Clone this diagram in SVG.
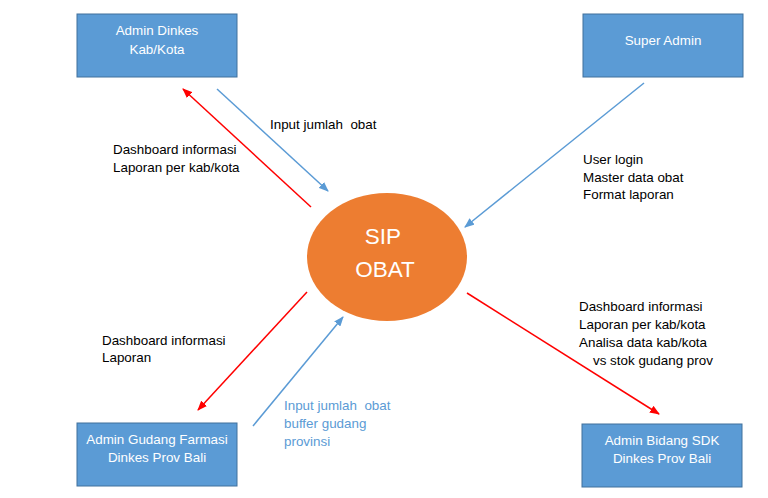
<svg xmlns="http://www.w3.org/2000/svg" width="768" height="498" viewBox="0 0 768 498">
<style>
.box{fill:#5B9BD5;stroke:#41719C;stroke-width:1}
.bt{font-family:"Liberation Sans",Arial,sans-serif;font-size:13.4px;fill:#fff;text-anchor:middle}
.lb{font-family:"Liberation Sans",Arial,sans-serif;font-size:13.4px;fill:#000;white-space:pre}
.lbb{font-family:"Liberation Sans",Arial,sans-serif;font-size:13.4px;fill:#5B9BD5;white-space:pre}
.red{stroke:#FF0000;stroke-width:1.5;fill:none;marker-end:url(#ar)}
.blue{stroke:#5B9BD5;stroke-width:1.5;fill:none;marker-end:url(#ab)}
</style>
<defs>
<marker id="ar" markerWidth="10" markerHeight="8" refX="9" refY="4" orient="auto" markerUnits="userSpaceOnUse"><path d="M0,0 L10,4 L0,8 z" fill="#FF0000"/></marker>
<marker id="ab" markerWidth="10" markerHeight="8" refX="9" refY="4" orient="auto" markerUnits="userSpaceOnUse"><path d="M0,0 L10,4 L0,8 z" fill="#5B9BD5"/></marker>
</defs>
<rect width="768" height="498" fill="#fff"/>
<g id="connectors">
<line class="red" x1="311" y1="207" x2="183" y2="89"/>
<line class="blue" x1="217" y1="89" x2="328" y2="191"/>
<line class="blue" x1="644" y1="83" x2="465" y2="227"/>
<line class="red" x1="307" y1="292" x2="198" y2="410"/>
<line class="blue" x1="253" y1="426" x2="343" y2="317"/>
<line class="red" x1="467" y1="293" x2="659" y2="414"/>
</g>
<g id="labels">
<text class="lb" x="270" y="129" xml:space="preserve">Input jumlah  obat</text>
<text class="lb" x="113" y="154">Dashboard informasi</text>
<text class="lb" x="113" y="172">Laporan per kab/kota</text>
<text class="lb" x="583" y="164">User login</text>
<text class="lb" x="583" y="182">Master data obat</text>
<text class="lb" x="583" y="199">Format laporan</text>
<text class="lb" x="102" y="345">Dashboard informasi</text>
<text class="lb" x="102" y="362">Laporan</text>
<text class="lbb" x="284" y="410" xml:space="preserve">Input jumlah  obat</text>
<text class="lbb" x="284" y="428">buffer gudang</text>
<text class="lbb" x="284" y="446">provinsi</text>
<text class="lb" x="579" y="311">Dashboard informasi</text>
<text class="lb" x="579" y="329">Laporan per kab/kota</text>
<text class="lb" x="579" y="347">Analisa data kab/kota</text>
<text class="lb" x="593" y="365">vs stok gudang prov</text>
</g>
<g id="admin-dinkes">
<rect class="box" x="77" y="14" width="160" height="63"/>
<text class="bt" x="157" y="35">Admin Dinkes</text>
<text class="bt" x="157" y="54">Kab/Kota</text>
</g>
<g id="super-admin">
<rect class="box" x="583" y="14" width="160" height="63"/>
<text class="bt" x="663" y="45">Super Admin</text>
</g>
<g id="sip-obat">
<ellipse cx="387" cy="257" rx="80" ry="64" fill="#ED7D31"/>
<text x="383" y="244" font-family="Liberation Sans,Arial,sans-serif" font-size="22.5" fill="#fff" text-anchor="middle">SIP</text>
<text x="385" y="277" font-family="Liberation Sans,Arial,sans-serif" font-size="22.5" fill="#fff" text-anchor="middle">OBAT</text>
</g>
<g id="admin-gudang">
<rect class="box" x="77" y="423" width="160" height="63"/>
<text class="bt" x="157" y="444">Admin Gudang Farmasi</text>
<text class="bt" x="157" y="462">Dinkes Prov Bali</text>
</g>
<g id="admin-bidang">
<rect class="box" x="582" y="424" width="160" height="63"/>
<text class="bt" x="662" y="445">Admin Bidang SDK</text>
<text class="bt" x="662" y="463">Dinkes Prov Bali</text>
</g>
</svg>
